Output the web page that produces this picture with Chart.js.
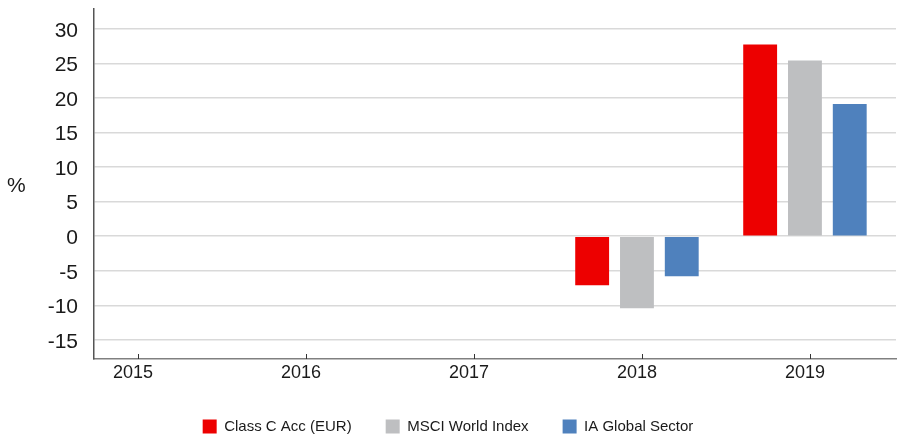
<!DOCTYPE html>
<html>
<head>
<meta charset="utf-8">
<script src="https://cdn.jsdelivr.net/npm/chart.js@4/dist/chart.umd.min.js"></script>
<style>
  html, body { margin: 0; padding: 0; background: #fff; }
  #wrap { width: 897px; height: 436px; }
</style>
</head>
<body>
<div id="wrap"><canvas id="perfChart" width="897" height="436"></canvas></div>
<script>
// Chart data
const years = [2015, 2016, 2017, 2018, 2019];
const classC = [null, null, null, -7.1, 27.7];
const msciWorld = [null, null, null, -10.4, 25.4];
const iaGlobal = [null, null, null, -5.8, 19.1];
const yTicks = [-15, -10, -5, 0, 5, 10, 15, 20, 25, 30];

const seriesNames = ["Class C Acc (EUR)", "MSCI World Index", "IA Global Sector"];
const seriesColors = ["#ED0000", "#BEBFC1", "#4F81BD"];

const FONT = "Arial, 'Liberation Sans', sans-serif";
Chart.defaults.font.family = FONT;
Chart.defaults.color = "#1a1a1a";

const toPoints = (vals) => years.map((y, i) => ({ x: y, y: vals[i] }));

// "%" label and the small inward tick marks on the x axis
const extras = {
  id: "extras",
  afterDraw(chart) {
    const ctx = chart.ctx;
    const xs = chart.scales.x;
    const bottom = chart.chartArea.bottom;
    ctx.save();
    ctx.font = "21px " + FONT;
    ctx.fillStyle = "#1a1a1a";
    ctx.textAlign = "left";
    ctx.textBaseline = "middle";
    ctx.fillText("%", 7, 186);

    ctx.strokeStyle = "#333";
    ctx.lineWidth = 1;
    years.forEach((yr) => {
      const px = Math.round(xs.getPixelForValue(yr)) + 5.5;
      ctx.beginPath();
      ctx.moveTo(px, bottom - 5);
      ctx.lineTo(px, bottom);
      ctx.stroke();
    });
    ctx.restore();
  },
};

const ctx = document.getElementById("perfChart").getContext("2d");
new Chart(ctx, {
  type: "bar",
  data: {
    datasets: [classC, msciWorld, iaGlobal].map((vals, i) => ({
      label: seriesNames[i],
      data: toPoints(vals),
      backgroundColor: seriesColors[i],
      borderWidth: 0,
      categoryPercentage: 0.8,
      barPercentage: 0.756,
    })),
  },
  options: {
    responsive: false,
    animation: false,
    layout: { padding: { top: 9, right: 1, left: 0, bottom: -8 } },
    plugins: {
      tooltip: { enabled: false },
      legend: {
        position: "bottom",
        labels: {
          boxWidth: 14,
          boxHeight: 14,
          padding: 34,
          font: { size: 15 },
          color: "#1a1a1a",
        },
      },
    },
    scales: {
      x: {
        type: "linear",
        offset: false,
        min: 2014.768,
        max: 2019.542,
        afterBuildTicks: (scale) => {
          scale.ticks = years.map((v) => ({ value: v }));
        },
        afterFit: (scale) => {
          scale.height = 26;
          scale.paddingLeft = 0;
          scale.paddingRight = 0;
        },
        grid: { display: false, drawTicks: false, offset: false },
        border: { display: true, color: "#808080", width: 1.5 },
        ticks: {
          padding: 3,
          font: { size: 18 },
          color: "#1a1a1a",
          maxRotation: 0,
          callback: (v) => String(v),
        },
      },
      y: {
        min: -17.75,
        max: 32.85,
        afterBuildTicks: (scale) => {
          scale.ticks = yTicks.map((v) => ({ value: v }));
        },
        afterFit: (scale) => {
          scale.width = 94;
          scale.paddingTop = 0;
          scale.paddingBottom = 0;
        },
        grid: { color: "#d9d9d9", lineWidth: 1.5, drawTicks: false },
        border: { display: true, color: "#555555", width: 1.5 },
        ticks: {
          padding: 16,
          labelOffset: 2,
          font: { size: 21 },
          color: "#1a1a1a",
        },
      },
    },
  },
  plugins: [extras],
});
</script>
</body>
</html>
